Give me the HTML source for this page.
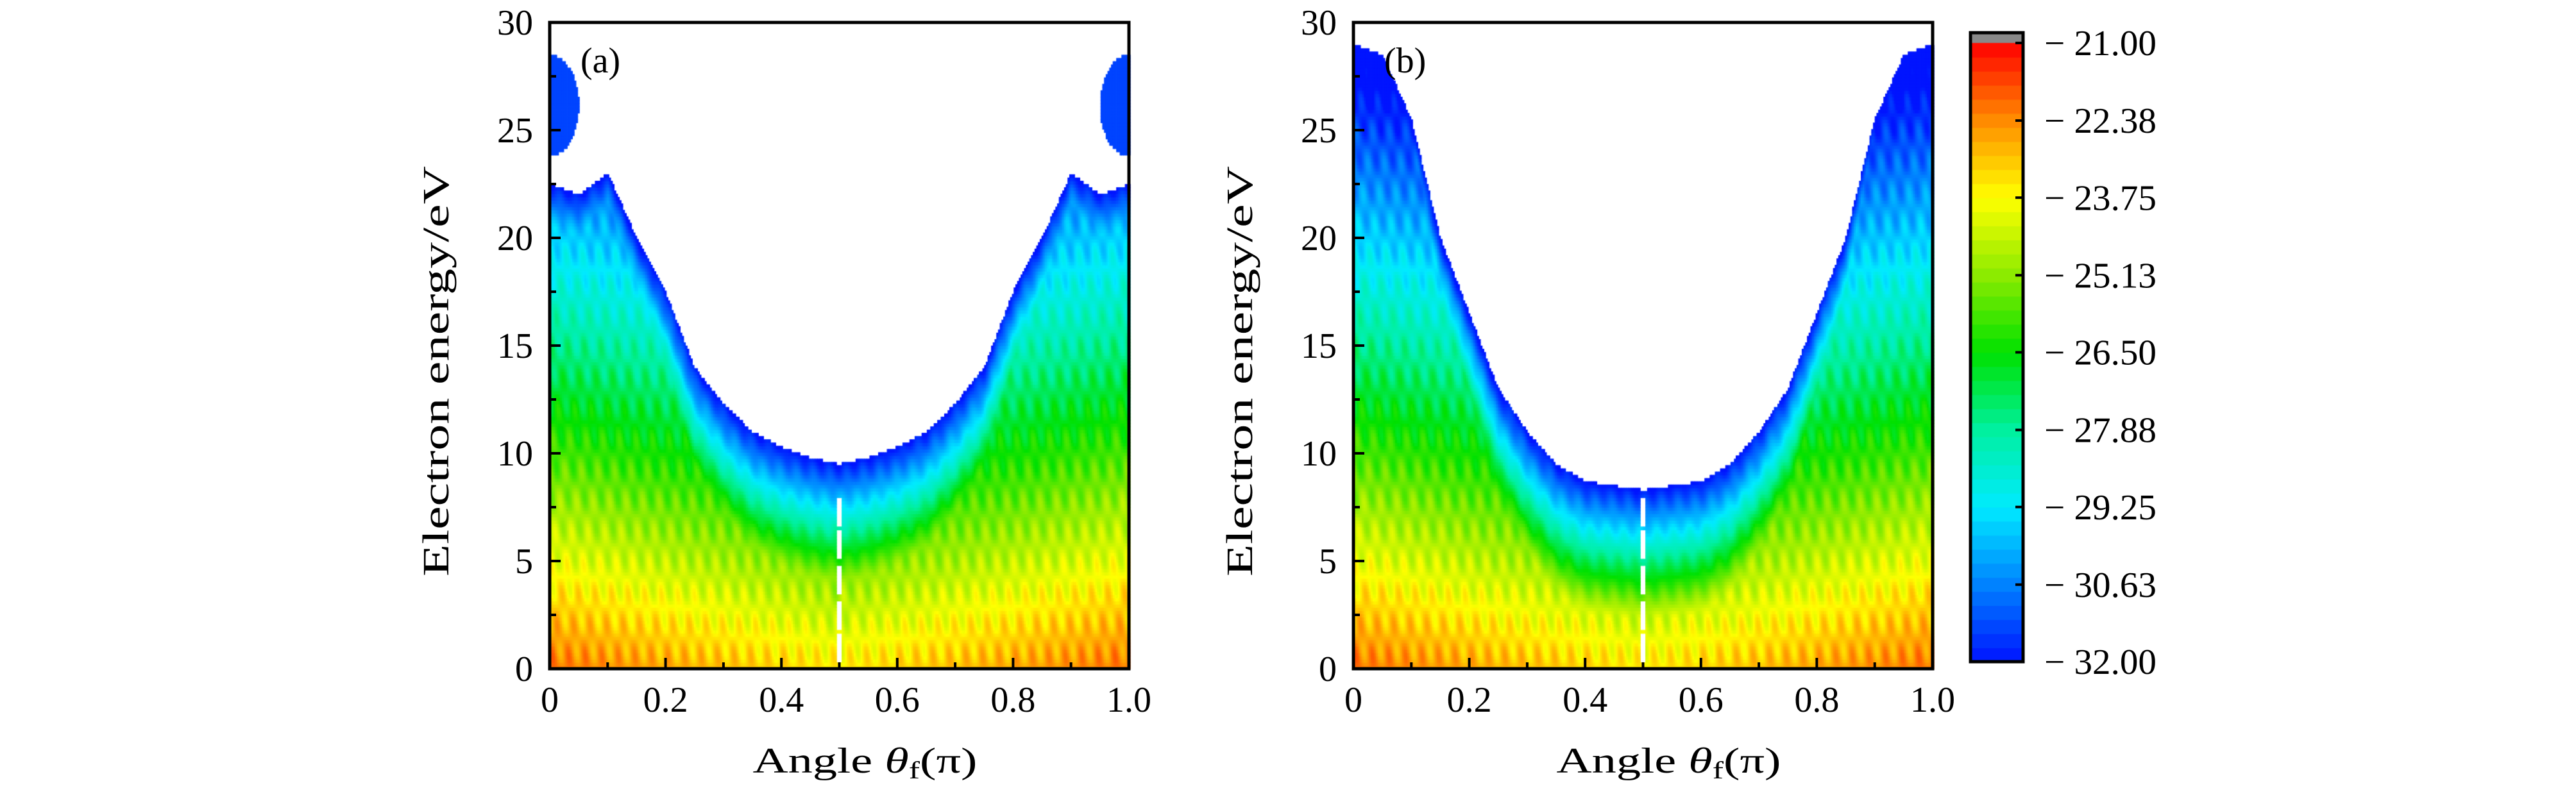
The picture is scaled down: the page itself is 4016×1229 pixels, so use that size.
<!DOCTYPE html>
<html><head><meta charset="utf-8"><style>
html,body{margin:0;padding:0;background:#fff;width:4016px;height:1229px;overflow:hidden}
#wrap{position:relative;width:4016px;height:1229px}
canvas{position:absolute;left:0;top:0}
svg{position:absolute;left:0;top:0}
text{font-family:"Liberation Serif",serif;fill:#000}
</style></head><body>
<div id="wrap">
<canvas id="cv" width="4016" height="1229"></canvas>
<svg id="sv" width="4016" height="1229"></svg>
</div>
<script>
// ---- data ----
const boundaryAngles = [0,0.05,0.1,0.15,0.2,0.25,0.3,0.35,0.4,0.45,0.5,0.55,0.6,0.65,0.7,0.75,0.8,0.85,0.9,0.95,1.0];
const boundaryA = [22.5,22,23,20,17.5,14,12.3,11,10.3,9.8,9.5,9.8,10.3,11,12.3,14,17.5,20,23,22,22.5];
const boundaryB = [29,28.5,25.5,20,16.5,13,11,9.5,8.7,8.5,8.3,8.5,8.7,9.5,11,13,16.5,20,25.5,28.5,29];
const islandsA = [[0,0.05,23.8,28.5],[0.95,1.0,23.8,28.5]];
const islandsB = [];
const xTicks = [0,0.2,0.4,0.6,0.8,1.0];
const xTickLabels = ["0","0.2","0.4","0.6","0.8","1.0"];
const yTicks = [0,5,10,15,20,25,30];
const cbTicks = [-21.00,-22.38,-23.75,-25.13,-26.50,-27.88,-29.25,-30.63,-32.00];
const cbStops = [-32,-30.63,-29.25,-27.88,-26.5,-25.13,-23.75,-22.38,-21];
const cbColors = [[0,20,255],[0,130,255],[0,235,255],[0,240,160],[0,225,0],[140,235,0],[255,255,0],[255,140,0],[255,0,0]];

function cmap(v){
  v=Math.max(-32,Math.min(-21,v));
  for(let i=0;i<cbStops.length-1;i++){
    if(v<=cbStops[i+1]){const t=(v-cbStops[i])/(cbStops[i+1]-cbStops[i]);
      const a=cbColors[i],b=cbColors[i+1];
      return `rgb(${Math.round(a[0]+(b[0]-a[0])*t)},${Math.round(a[1]+(b[1]-a[1])*t)},${Math.round(a[2]+(b[2]-a[2])*t)})`;}
  }
  return 'rgb(255,0,0)';
}
function interp(xs,ys,x){for(let i=0;i<xs.length-1;i++){if(x<=xs[i+1]){const t=(x-xs[i])/(xs[i+1]-xs[i]);return ys[i]+(ys[i+1]-ys[i])*t;}}return ys[ys.length-1];}

const panels=[{x0:857,x1:1760,y0:35,y1:1043,bound:boundaryA,isl:islandsA,label:"(a)"},
              {x0:2110,x1:3013,y0:35,y1:1043,bound:boundaryB,isl:islandsB,label:"(b)"}];
const ctx=document.getElementById('cv').getContext('2d');
const sv=document.getElementById('sv');
const NS='http://www.w3.org/2000/svg';
function el(tag,attrs,parent,txt){const e=document.createElementNS(NS,tag);for(const k in attrs)e.setAttribute(k,attrs[k]);if(txt!==undefined)e.textContent=txt;(parent||sv).appendChild(e);return e;}

panels.forEach((p,pi)=>{
  const sx=a=>p.x0+a*(p.x1-p.x0), sy=e=>p.y1-e/30*(p.y1-p.y0);
  const da=0.003, de=0.15;
  for(let a=0;a<1-1e-9;a+=da){
    const ac=a+da/2, b=interp(boundaryAngles,p.bound,ac);
    for(let e=0;e<30-1e-9;e+=de){
      const ec=e+de/2;
      let inIsl=p.isl.some(r=>{const cx=r[0]<0.5?0:1,cy=(r[2]+r[3])/2;
        const dx=(ac-cx)/(r[1]-r[0]),dy=(ec-cy)/((r[3]-r[2])/2);return dx*dx+dy*dy<=1;});
      if(ec>b && !inIsl) continue;
      if(Math.abs(ac-0.5)<0.004 && ec<8 && (ec%1.6)>0.25) continue;
      let v;
      if(inIsl) v=-31.4;
      else{
        const edge=Math.abs(ac-0.5)*2;
        const stripe=0.55*Math.sin(ac*70*Math.PI+ec*0.9)*Math.sin(ec*2.2);
        const vE=-22.1-0.37*ec-(1-edge)*1.4+stripe;
        const vB=-32+(b-ec)*1.3+stripe*0.5;
        v=Math.min(vE,vB);
      }
      ctx.fillStyle=cmap(v);
      ctx.fillRect(sx(a),sy(e+de),sx(a+da)-sx(a)+0.8,sy(e)-sy(e+de)+0.8);
    }
  }
  const g=el('g',{});
  el('rect',{x:p.x0,y:p.y0,width:p.x1-p.x0,height:p.y1-p.y0,fill:'none',stroke:'#000','stroke-width':5,},g);
  for(let k=0;k<=10;k++){const x=sx(k/10),L=k%2?10:17;
    el('line',{x1:x,x2:x,y1:p.y1,y2:p.y1-L,stroke:'#000','stroke-width':4},g);}
  for(let k=0;k<=12;k++){const y=sy(k*2.5),L=k%2?10:17;
    el('line',{x1:p.x0,x2:p.x0+L,y1:y,y2:y,stroke:'#000','stroke-width':4},g);}
  xTicks.forEach((t,i)=>{const tx=el('text',{x:sx(t),y:1110,'font-size':56,'text-anchor':'middle'},g,xTickLabels[i]);
    });
  yTicks.forEach(t=>{const tx=el('text',{x:p.x0-26,y:sy(t)+19,'font-size':56,'text-anchor':'end'},g,String(t));
    });
  const xt=el('text',{x:(p.x0+p.x1)/2-135,y:1205,'font-size':56,textLength:350,lengthAdjust:'spacingAndGlyphs'},g);
  
  xt.innerHTML='Angle <tspan font-style="italic">θ</tspan><tspan font-size="38" dy="9">f</tspan><tspan dy="-9">(π)</tspan>';
  const yt=el('text',{x:0,y:0,'font-size':58,'text-anchor':'middle',textLength:640,lengthAdjust:'spacingAndGlyphs',transform:`translate(${p.x0-158},${(p.y0+p.y1)/2+40}) rotate(-90)`},g,'Electron energy/eV');
  
  const lb=el('text',{x:p.x0+48,y:p.y0+78,'font-size':56},g,p.label);
  
});

// colorbar
const cb={x0:3072,x1:3154,y0:51,y1:1032};
const nb=44;const top0=cb.y0+16;
ctx.fillStyle='#888';ctx.fillRect(cb.x0,cb.y0,cb.x1-cb.x0,16);
for(let i=0;i<nb;i++){const v=-32+(i+0.5)*11/nb;const y1=cb.y1-(i)*(cb.y1-top0)/nb,y0=cb.y1-(i+1)*(cb.y1-top0)/nb;
  ctx.fillStyle=cmap(v);ctx.fillRect(cb.x0,y0,cb.x1-cb.x0,y1-y0+0.8);}
const cg=el('g',{});
el('rect',{x:cb.x0,y:cb.y0,width:cb.x1-cb.x0,height:cb.y1-cb.y0,fill:'none',stroke:'#000','stroke-width':5},cg);
cbTicks.forEach(t=>{const y=cb.y1-(t+32)/11*(cb.y1-top0);
  el('line',{x1:cb.x1,x2:cb.x1-12,y1:y,y2:y,stroke:'#000','stroke-width':4},cg);
  const tx=el('text',{x:3187,y:y+19,'font-size':56,textLength:175,lengthAdjust:'spacingAndGlyphs'},cg,'− '+Math.abs(t).toFixed(2));
  });
</script>
</body></html>
